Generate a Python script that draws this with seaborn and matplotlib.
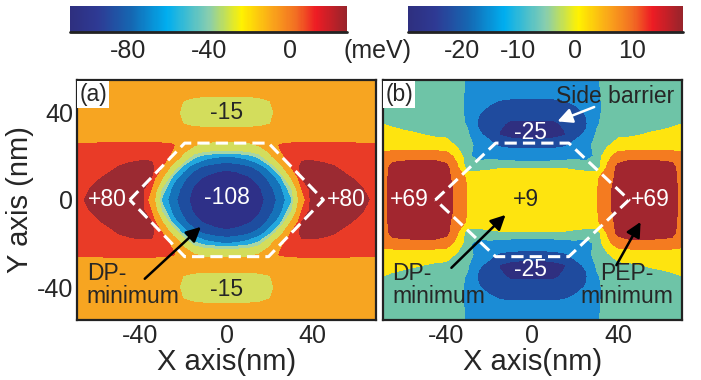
import numpy as np
import matplotlib
matplotlib.use('Agg')
import matplotlib.pyplot as plt
import seaborn as sns
from matplotlib.colors import LinearSegmentedColormap, Normalize
from matplotlib.cm import ScalarMappable
from matplotlib.ticker import MultipleLocator

sns.set_theme(style='ticks')
plt.rcParams['font.family'] = ['Liberation Sans', 'DejaVu Sans']
plt.rcParams['axes.unicode_minus'] = False

# grid of one quarter (x >= 0, y >= 0) in nm; both maps are mirror symmetric in x and y
x_q = [0, 5, 10, 15, 20, 25, 30, 35, 40, 45, 50, 55, 60, 65, 70]
y_q = [0, 5, 10, 15, 20, 25, 30, 35, 40, 45, 50, 55]

# panel (a) potential (meV), rows = y_q, cols = x_q
pot_a_q = [
    [-115, -114, -111, -105, -95, -84, -67, -7, 28, 32, 33, 32, 28, 22, 14],
    [-113, -112, -108, -102, -92, -80, -56, 5, 27, 31, 32, 30, 25, 18, 12],
    [-108, -106, -102, -96, -85, -70, -25, 20, 27, 30, 29, 24, 18, 12, 9],
    [-97, -95, -91, -84, -70, -36, 5, 25, 27, 25, 21, 15, 11, 9, 8],
    [-76, -74, -70, -60, -33, 2, 10, 16, 15, 13, 12, 10, 9, 9, 9],
    [-31, -31, -30, -24, -8, 7, 9, 10, 10, 10, 10, 10, 9, 9, 9],
    [-12, -12, -12, -13, -14, -12, -10, -10, -10, -10, -10, -10, -10, -10, -10],
    [-33, -33, -32, -30, -26, -14, -10, -10, -10, -10, -10, -10, -10, -10, -10],
    [-36, -36, -35, -33, -29, -19, -11, -10, -10, -10, -10, -10, -10, -10, -10],
    [-32, -32, -31, -30, -26, -14, -11, -10, -10, -10, -10, -10, -10, -10, -10],
    [-18, -18, -18, -17, -15, -12, -11, -10, -10, -10, -10, -10, -10, -10, -10],
    [-12, -12, -12, -12, -12, -11, -10, -10, -10, -10, -10, -10, -10, -10, -10],
]

# panel (b) potential (meV)
pot_b_q = [
    [2, 2, 2, 2, 2, 3, 4.5, 10, 15, 16, 16, 16, 15.5, 14, 10],
    [2, 2, 2, 2, 2, 3, 4.5, 10, 15, 16, 16, 16, 15.5, 14, 10],
    [1, 1, 1, 1, 1, 2, 4, 9, 14, 15, 15, 15, 14.5, 13.5, 10],
    [-3.5, -3.5, -3.4, -3.6, -4.5, -6, -7, 6, 14, 15, 15, 15, 14.5, 13.5, 9],
    [-14, -14, -13, -12, -11, -11, -8, 3, 8, 10, 10, 10, 10, 10, 8],
    [-20, -20, -20, -19, -16, -11, -7, -4, 1, 0, 0, 0, 0, 0, 0],
    [-27, -27, -26, -24.5, -20, -17, -8, -6, -5, -4, -3.2, -2.5, -2, -1.5, -1],
    [-25, -25, -25, -23, -21, -19, -10, -6, -6, -6, -5.5, -5, -4.5, -3.8, -3],
    [-21, -21, -21.5, -21, -20, -17.5, -11, -6, -6, -6, -6, -6, -6, -6, -6],
    [-19, -19, -19, -18.5, -17, -15, -11, -6, -6, -6, -6, -6, -6, -6, -6],
    [-15, -15, -15, -14.5, -14, -13, -10.5, -6, -6, -6, -6, -6, -6, -6, -6],
    [-13, -13, -13, -13, -12, -12, -10, -6, -6, -6, -6, -6, -6, -6, -6],
]

levels_a = [-130, -100, -88, -76, -64, -52, -25, 5, 20, 40]
colors_a = ['#2e3088', '#1e4d9f', '#1572b9', '#22a7de', '#a6d6a6',
            '#d3dd5c', '#f7a521', '#e93b27', '#9b2a32']
levels_b = [-40, -24, -18, -9, -3, 5, 12, 30]
colors_b = ['#2f2f80', '#1f4b9e', '#1b8cd5', '#6ec4a7', '#fee40f',
            '#f47b20', '#a2262f']

# dashed hexagons (nm)
hex_a_x = [-45, -19.5, 19.5, 45, 19.5, -19.5, -45]
hex_a_y = [0, 26, 26, 0, -26, -26, 0]
hex_b_x = [-45, -17, 17, 45, 17, -17, -45]
hex_b_y = [0, 26, 26, 0, -26, -26, 0]

# colour bars
bar_nodes = [0.0, 0.10, 0.22, 0.35, 0.50, 0.62, 0.73, 0.82, 0.89, 1.0]
bar_colors = ['#2e2f7f', '#2e3a94', '#1567b2', '#00aeef', '#86cdb0',
              '#fff200', '#faa61a', '#f26c23', '#ed1c24', '#98242b']
bar_a_range = (-109, 28.5)
bar_a_ticks = [-100, -80, -60, -40, -20, 0, 20]
bar_a_labels = ['', '-80', '', '-40', '', '0', '']
bar_b_range = (-29.5, 19)
bar_b_ticks = [-25, -20, -15, -10, -5, 0, 5, 10, 15]
bar_b_labels = ['', '-20', '', '-10', '', '0', '', '10', '']


def full_map(q):
    q = np.asarray(q, dtype=float)
    q = np.hstack([q[:, :0:-1], q])
    return np.vstack([q[:0:-1], q])


xq = np.array(x_q, dtype=float)
yq = np.array(y_q, dtype=float)
xs = np.concatenate([-xq[:0:-1], xq])
ys = np.concatenate([-yq[:0:-1], yq])

fig = plt.figure(figsize=(7.01, 3.80), dpi=100)
ax_a = fig.add_axes([0.110, 0.158, 0.4265, 0.632])
ax_b = fig.add_axes([0.546, 0.158, 0.4265, 0.632])

ax_a.contourf(xs, ys, full_map(pot_a_q), levels=levels_a, colors=colors_a)
ax_b.contourf(xs, ys, full_map(pot_b_q), levels=levels_b, colors=colors_b)

ax_a.plot(hex_a_x, hex_a_y, color='white', lw=2.2, dashes=(4, 2))
ax_b.plot(hex_b_x, hex_b_y, color='white', lw=2.2, dashes=(4, 2))

for ax in (ax_a, ax_b):
    ax.set_xlim(-69.5, 69.5)
    ax.set_ylim(-55, 55)
    ax.xaxis.set_major_locator(MultipleLocator(40))
    ax.xaxis.set_minor_locator(MultipleLocator(20))
    ax.yaxis.set_major_locator(MultipleLocator(40))
    ax.yaxis.set_minor_locator(MultipleLocator(20))
    ax.tick_params(which='both', direction='in', top=True, right=True,
                   length=5, width=1.5, color='#222222', labelsize=18, pad=3)
    for s in ax.spines.values():
        s.set_linewidth(1.6)
        s.set_color('#222222')
    ax.set_xlabel('X axis(nm)', fontsize=21, labelpad=0)

ax_a.set_ylabel('Y axis (nm)', fontsize=21, labelpad=2)
ax_b.tick_params(labelleft=False)

fs = 16.5
box = dict(facecolor='white', edgecolor='none', pad=1.5)
ax_a.text(0.008, 0.985, '(a)', transform=ax_a.transAxes, ha='left', va='top',
          fontsize=fs, bbox=box)
ax_b.text(0.008, 0.985, '(b)', transform=ax_b.transAxes, ha='left', va='top',
          fontsize=fs, bbox=box)

arrow_k = dict(arrowstyle='-|>', color='black', lw=1.8, mutation_scale=22)
arrow_w = dict(arrowstyle='-|>', color='white', lw=1.8, mutation_scale=22)

# panel (a) labels
ax_a.text(0, 40, '-15', ha='center', va='center', fontsize=fs)
ax_a.text(0, -41, '-15', ha='center', va='center', fontsize=fs)
ax_a.text(0, 1, '-108', ha='center', va='center', fontsize=fs, color='white')
ax_a.text(-55.5, 0, '+80', ha='center', va='center', fontsize=fs, color='white')
ax_a.text(55.5, 0, '+80', ha='center', va='center', fontsize=fs, color='white')
ax_a.text(-65, -39, 'DP-\nminimum', ha='left', va='center', fontsize=fs,
          linespacing=0.95)
ax_a.annotate('', xy=(-11, -11.5), xytext=(-39, -37), arrowprops=arrow_k)

# panel (b) labels
ax_b.text(38.5, 47.5, 'Side barrier', ha='center', va='center', fontsize=fs)
ax_b.annotate('', xy=(10.5, 35.5), xytext=(30, 43), arrowprops=arrow_w)
ax_b.text(-1, 31, '-25', ha='center', va='center', fontsize=fs, color='white')
ax_b.text(-1, -32, '-25', ha='center', va='center', fontsize=fs, color='white')
ax_b.text(-57, 0, '+69', ha='center', va='center', fontsize=fs, color='white')
ax_b.text(55, 0, '+69', ha='center', va='center', fontsize=fs, color='white')
ax_b.text(-3, 0, '+9', ha='center', va='center', fontsize=fs)
ax_b.text(-65, -39, 'DP-\nminimum', ha='left', va='center', fontsize=fs,
          linespacing=0.95)
ax_b.text(44, -39, 'PEP-\nminimum', ha='center', va='center', fontsize=fs,
          linespacing=0.95)
ax_b.annotate('', xy=(-11.5, -6), xytext=(-38.5, -32), arrowprops=arrow_k)
ax_b.annotate('', xy=(51, -9), xytext=(38.5, -31), arrowprops=arrow_k)

# colour bars
bar_cmap = LinearSegmentedColormap.from_list('bar', list(zip(bar_nodes, bar_colors)))
for rect, rng, ticks, labels in [
        ([0.0999, 0.916, 0.395, 0.068], bar_a_range, bar_a_ticks, bar_a_labels),
        ([0.582, 0.916, 0.392, 0.068], bar_b_range, bar_b_ticks, bar_b_labels)]:
    cax = fig.add_axes(rect)
    cb = fig.colorbar(ScalarMappable(norm=Normalize(*rng), cmap=bar_cmap),
                      cax=cax, orientation='horizontal')
    cb.set_ticks(ticks, labels=labels)
    cb.outline.set_visible(False)
    cax.tick_params(direction='in', length=9, width=1.8, color='#222222',
                    labelsize=18, pad=5)
    cax.plot([0, 1], [0, 0], transform=cax.transAxes, color='#222222', lw=2,
             clip_on=False)

fig.text(0.538, 0.866, '(meV)', ha='center', va='center', fontsize=18)

fig.savefig('out.png', dpi=100)
